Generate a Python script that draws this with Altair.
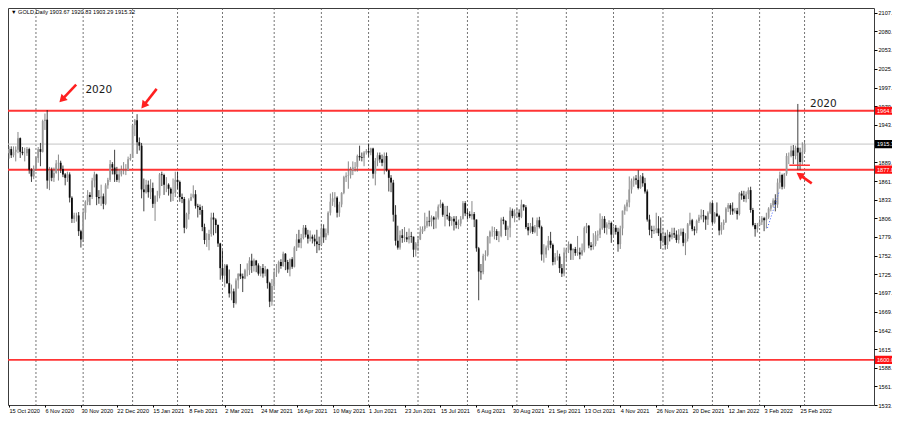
import altair as alt
import pandas as pd

# ---------------- data ----------------
TITLE = "\u25bc GOLD,Daily  1903.67 1920.83 1903.29 1915.32"
FIRST_DAY = "2020-10-15"
LAST_DAY = "2022-03-01"
CLOSED_DAYS = ["2020-12-25", "2021-01-01", "2021-04-02", "2021-12-24"]

OPEN = [
    1902, 1908, 1899, 1904, 1907, 1924, 1904, 1902, 1902, 1908, 1878, 1868,
    1879, 1895, 1908, 1904, 1949, 1951, 1862, 1877, 1866, 1873, 1887, 1888, 1879, 1871, 1866, 1871, 1837, 1806, 1811, 1811, 1788,
    1776, 1815, 1831, 1841, 1838, 1862, 1871, 1838, 1836, 1839, 1828, 1855, 1863, 1886, 1881, 1871, 1863, 1871, 1877, 1877, 1877, 1893,
    1895, 1943, 1950, 1918, 1913, 1849, 1845, 1856, 1845, 1851, 1828, 1840, 1840, 1871, 1870, 1856, 1856, 1850, 1843, 1844,
    1863, 1860, 1838, 1835, 1793, 1813, 1833, 1838, 1842, 1825, 1823, 1819, 1794, 1775, 1775, 1784, 1808, 1805, 1797, 1770,
    1734, 1723, 1738, 1712, 1697, 1700, 1683, 1716, 1726, 1722, 1719, 1731, 1731, 1745, 1737, 1745, 1738, 1726, 1734, 1726, 1732, 1712, 1685,
    1708, 1728, 1728, 1743, 1737, 1755, 1743, 1732, 1747, 1736, 1764, 1776, 1771, 1778, 1793, 1783, 1777, 1780, 1777, 1773, 1769,
    1768, 1792, 1779, 1785, 1815, 1831, 1836, 1837, 1815, 1827, 1844, 1867, 1869, 1870, 1877, 1881, 1882, 1898, 1896, 1895, 1903,
    1905, 1903, 1909, 1872, 1891, 1899, 1893, 1888, 1898, 1877, 1866, 1859, 1812, 1774, 1764, 1782, 1778, 1779, 1776, 1781, 1780, 1761,
    1770, 1776, 1787, 1791, 1796, 1803, 1802, 1808, 1805, 1808, 1824, 1828, 1812, 1812, 1810, 1803, 1806, 1802, 1797, 1799, 1806, 1829,
    1814, 1813, 1810, 1813, 1805, 1763, 1729, 1728, 1752, 1753, 1780, 1787, 1787, 1788, 1781, 1781, 1805, 1803, 1790, 1793, 1818, 1810,
    1814, 1815, 1809, 1827, 1823, 1794, 1789, 1795, 1787, 1794, 1804, 1794, 1754, 1754, 1764, 1774, 1768, 1743, 1750, 1751, 1734, 1726,
    1757, 1761, 1769, 1760, 1762, 1756, 1757, 1754, 1760, 1793, 1796, 1767, 1765, 1769, 1782, 1783, 1792, 1806, 1793, 1798, 1800,
    1783, 1793, 1787, 1769, 1792, 1818, 1824, 1830, 1849, 1862, 1865, 1863, 1851, 1868, 1858, 1846, 1805, 1790, 1788, 1790, 1792, 1785,
    1774, 1781, 1768, 1783, 1779, 1785, 1783, 1775, 1783, 1787, 1771, 1777, 1798, 1804, 1791, 1789, 1803, 1808, 1811, 1810, 1805, 1815,
    1829, 1801, 1814, 1810, 1789, 1797, 1801, 1821, 1826, 1821, 1817, 1818, 1813, 1843, 1840, 1835, 1842, 1848, 1819, 1797, 1791,
    1797, 1801, 1807, 1804, 1808, 1821, 1826, 1833, 1827, 1859, 1870, 1853, 1872, 1898, 1898, 1906, 1898, 1910, 1903, 1889, 1903.67,
]
HIGH = [
    1912, 1912, 1912, 1912, 1933, 1925, 1911, 1910, 1911, 1910, 1880, 1884,
    1897, 1911, 1917, 1951, 1960, 1965, 1882, 1881, 1881, 1892, 1900, 1891, 1884, 1873, 1875, 1874, 1839, 1815, 1815, 1816, 1790,
    1820, 1833, 1848, 1845, 1866, 1875, 1872, 1848, 1856, 1843, 1858, 1866, 1892, 1889, 1907, 1882, 1879, 1884, 1889, 1886, 1897, 1901,
    1945, 1952, 1959, 1925, 1917, 1865, 1863, 1862, 1864, 1859, 1838, 1847, 1873, 1875, 1872, 1867, 1858, 1852, 1865, 1875,
    1875, 1862, 1843, 1838, 1815, 1836, 1843, 1855, 1848, 1828, 1827, 1825, 1799, 1785, 1790, 1815, 1815, 1807, 1798, 1771,
    1760, 1740, 1740, 1732, 1710, 1704, 1719, 1726, 1740, 1726, 1733, 1741, 1750, 1755, 1748, 1746, 1741, 1737, 1740, 1737, 1733, 1714, 1718,
    1733, 1740, 1745, 1747, 1758, 1756, 1746, 1748, 1750, 1766, 1784, 1790, 1784, 1797, 1797, 1790, 1789, 1783, 1783, 1790, 1780,
    1799, 1798, 1792, 1817, 1843, 1845, 1845, 1839, 1831, 1845, 1869, 1874, 1890, 1882, 1890, 1889, 1900, 1913, 1903, 1905, 1908,
    1916, 1910, 1910, 1895, 1903, 1903, 1900, 1903, 1903, 1877, 1870, 1863, 1826, 1796, 1789, 1791, 1794, 1787, 1792, 1787, 1780, 1772,
    1781, 1795, 1795, 1815, 1809, 1818, 1811, 1810, 1817, 1827, 1834, 1830, 1825, 1825, 1815, 1809, 1810, 1810, 1805, 1810, 1832, 1832,
    1820, 1817, 1832, 1816, 1805, 1765, 1740, 1755, 1760, 1781, 1789, 1795, 1794, 1791, 1788, 1808, 1809, 1804, 1796, 1823, 1821, 1820,
    1823, 1820, 1834, 1827, 1826, 1800, 1800, 1808, 1797, 1808, 1809, 1796, 1769, 1767, 1781, 1787, 1770, 1756, 1760, 1755, 1740, 1764,
    1764, 1773, 1770, 1763, 1765, 1781, 1764, 1770, 1795, 1800, 1797, 1772, 1785, 1788, 1789, 1814, 1810, 1810, 1801, 1804, 1802,
    1795, 1797, 1793, 1796, 1818, 1827, 1834, 1868, 1865, 1868, 1870, 1877, 1870, 1873, 1866, 1849, 1812, 1796, 1796, 1815, 1810, 1808,
    1793, 1786, 1790, 1787, 1793, 1793, 1789, 1791, 1792, 1792, 1785, 1800, 1815, 1806, 1795, 1805, 1812, 1820, 1819, 1811, 1817, 1831,
    1831, 1816, 1830, 1812, 1801, 1805, 1823, 1829, 1829, 1830, 1822, 1822, 1845, 1847, 1847, 1846, 1852, 1853, 1822, 1800, 1800,
    1807, 1810, 1809, 1815, 1823, 1829, 1836, 1842, 1865, 1875, 1872, 1873, 1902, 1903, 1913, 1914, 1913, 1974, 1910, 1918, 1920.83,
]
LOW = [
    1894, 1895, 1896, 1890, 1902, 1895, 1899, 1890, 1898, 1872, 1860, 1864,
    1876, 1888, 1883, 1903, 1936, 1850, 1848, 1861, 1860, 1872, 1862, 1873, 1867, 1855, 1860, 1830, 1800, 1800, 1802, 1781, 1764,
    1772, 1805, 1826, 1826, 1835, 1852, 1826, 1828, 1825, 1820, 1826, 1850, 1860, 1871, 1860, 1860, 1859, 1868, 1871, 1870, 1876, 1891,
    1895, 1927, 1901, 1906, 1836, 1817, 1843, 1837, 1835, 1822, 1803, 1831, 1836, 1854, 1841, 1845, 1840, 1831, 1832, 1838,
    1850, 1831, 1829, 1785, 1791, 1805, 1832, 1836, 1821, 1808, 1812, 1788, 1769, 1765, 1760, 1780, 1782, 1785, 1765, 1717,
    1717, 1706, 1711, 1691, 1687, 1676, 1681, 1704, 1718, 1699, 1718, 1722, 1724, 1727, 1729, 1728, 1723, 1722, 1720, 1722, 1704, 1677, 1679,
    1705, 1721, 1726, 1733, 1736, 1731, 1727, 1722, 1733, 1735, 1759, 1764, 1763, 1776, 1779, 1770, 1773, 1770, 1766, 1756, 1760,
    1766, 1771, 1775, 1782, 1811, 1825, 1823, 1808, 1809, 1823, 1842, 1860, 1850, 1865, 1870, 1875, 1875, 1891, 1890, 1883, 1900,
    1897, 1899, 1865, 1855, 1883, 1888, 1883, 1871, 1875, 1846, 1845, 1802, 1767, 1761, 1761, 1771, 1772, 1772, 1770, 1771, 1750, 1751,
    1759, 1775, 1784, 1788, 1793, 1795, 1795, 1791, 1792, 1805, 1822, 1809, 1795, 1805, 1795, 1796, 1789, 1792, 1791, 1795, 1805, 1810,
    1805, 1807, 1805, 1794, 1758, 1687, 1717, 1725, 1745, 1751, 1770, 1780, 1776, 1775, 1772, 1779, 1798, 1781, 1775, 1779, 1807, 1801,
    1808, 1804, 1807, 1818, 1791, 1782, 1785, 1784, 1785, 1781, 1792, 1745, 1742, 1749, 1760, 1763, 1738, 1739, 1745, 1727, 1721, 1722,
    1745, 1756, 1746, 1746, 1752, 1752, 1747, 1752, 1757, 1785, 1763, 1760, 1761, 1766, 1774, 1778, 1790, 1785, 1783, 1791, 1771,
    1780, 1783, 1758, 1762, 1782, 1812, 1817, 1823, 1843, 1853, 1856, 1849, 1850, 1853, 1843, 1802, 1782, 1778, 1784, 1785, 1781, 1762,
    1770, 1761, 1762, 1773, 1776, 1778, 1771, 1770, 1781, 1766, 1753, 1773, 1796, 1788, 1782, 1785, 1800, 1805, 1801, 1790, 1797, 1813,
    1798, 1799, 1809, 1782, 1783, 1790, 1800, 1816, 1812, 1812, 1814, 1805, 1811, 1834, 1831, 1830, 1835, 1815, 1795, 1780, 1786,
    1795, 1797, 1788, 1792, 1806, 1817, 1823, 1817, 1822, 1850, 1849, 1850, 1869, 1886, 1896, 1886, 1893, 1878, 1878, 1885, 1903.29,
]
CLOSE = [
    1908, 1899, 1904, 1907, 1924, 1904, 1902, 1902, 1908, 1878, 1868, 1879,
    1895, 1908, 1904, 1949, 1951, 1862, 1877, 1866, 1873, 1887, 1888, 1879, 1871, 1866, 1871, 1837, 1806, 1811, 1811, 1788, 1776,
    1815, 1831, 1841, 1838, 1862, 1871, 1838, 1836, 1839, 1828, 1855, 1863, 1886, 1881, 1871, 1863, 1871, 1877, 1877, 1877, 1893, 1895,
    1943, 1950, 1918, 1913, 1849, 1845, 1856, 1845, 1851, 1828, 1840, 1840, 1871, 1870, 1856, 1856, 1850, 1843, 1844, 1863,
    1860, 1838, 1835, 1793, 1813, 1833, 1838, 1842, 1825, 1823, 1819, 1794, 1775, 1775, 1784, 1808, 1805, 1797, 1770, 1734,
    1723, 1738, 1712, 1697, 1700, 1683, 1716, 1726, 1722, 1719, 1731, 1731, 1745, 1737, 1745, 1738, 1726, 1734, 1726, 1732, 1712, 1685, 1708,
    1728, 1728, 1743, 1737, 1755, 1743, 1732, 1747, 1736, 1764, 1776, 1771, 1778, 1793, 1783, 1777, 1780, 1777, 1773, 1769, 1768,
    1792, 1779, 1785, 1815, 1831, 1836, 1837, 1815, 1827, 1844, 1867, 1869, 1870, 1877, 1881, 1882, 1898, 1896, 1895, 1903, 1905,
    1903, 1909, 1872, 1891, 1899, 1893, 1888, 1898, 1877, 1866, 1859, 1812, 1774, 1764, 1782, 1778, 1779, 1776, 1781, 1780, 1761, 1770,
    1776, 1787, 1791, 1796, 1803, 1802, 1808, 1805, 1808, 1824, 1828, 1812, 1812, 1810, 1803, 1806, 1802, 1797, 1799, 1806, 1829, 1814,
    1813, 1810, 1813, 1805, 1763, 1729, 1728, 1752, 1753, 1780, 1787, 1787, 1788, 1781, 1781, 1805, 1803, 1790, 1793, 1818, 1810, 1814,
    1815, 1809, 1827, 1823, 1794, 1789, 1795, 1787, 1794, 1804, 1794, 1754, 1754, 1764, 1774, 1768, 1743, 1750, 1751, 1734, 1726, 1757,
    1761, 1769, 1760, 1762, 1756, 1757, 1754, 1760, 1793, 1796, 1767, 1765, 1769, 1782, 1783, 1792, 1806, 1793, 1798, 1800, 1783,
    1793, 1787, 1769, 1792, 1818, 1824, 1830, 1849, 1862, 1865, 1863, 1851, 1868, 1858, 1846, 1805, 1790, 1788, 1790, 1792, 1785, 1774,
    1781, 1768, 1783, 1779, 1785, 1783, 1775, 1783, 1787, 1771, 1777, 1798, 1804, 1791, 1789, 1803, 1808, 1811, 1810, 1805, 1815, 1829,
    1801, 1814, 1810, 1789, 1797, 1801, 1821, 1826, 1821, 1817, 1818, 1813, 1843, 1840, 1835, 1842, 1848, 1819, 1797, 1791, 1797,
    1801, 1807, 1804, 1808, 1821, 1826, 1833, 1827, 1859, 1870, 1853, 1872, 1898, 1898, 1906, 1898, 1910, 1903, 1889, 1904, 1915.32,
]

PRICE_TICKS = [2107.50, 2080.30, 2053.10, 2025.10, 1997.90, 1970.70, 1943.50, 1889.10,
               1861.10, 1833.90, 1806.70, 1779.50, 1752.30, 1725.10, 1697.90, 1669.90,
               1642.70, 1615.50, 1588.30, 1561.10, 1533.90]
LEVEL_PRICES = [1964.03, 1877.83, 1600.00]
LAST_PRICE = 1915.32
LABEL_EVERY = 16

# annotations, in (bar number, price)
ARROW_FROM_BAR = [29.9, 65.7, 357.2]
ARROW_FROM_PRICE = [2002.3, 1996.0, 1857.8]
ARROW_TO_BAR = [21.8, 58.3, 350.3]
ARROW_TO_PRICE = [1974.2, 1964.9, 1873.8]
ARROW_ANGLE = [224, 218, 305]
NOTE_TEXT = ["2020", "2020"]
NOTE_BAR = [34.0, 356.4]
NOTE_PRICE = [1995.0, 1973.9]
MARK_BARS = [347.2, 356.4]
MARK_PRICE = 1884.4
TREND_BARS = [337.5, 342.8]
TREND_PRICES = [1792.8, 1846.6]

# ---------------- build tables ----------------
days = pd.bdate_range(FIRST_DAY, LAST_DAY)
days = days[~days.isin(pd.to_datetime(CLOSED_DAYS))]
n = min(len(days), len(OPEN), len(HIGH), len(LOW), len(CLOSE))
df = pd.DataFrame({
    "i": list(range(n)), "date": days[:n],
    "open": OPEN[:n], "high": HIGH[:n], "low": LOW[:n], "close": CLOSE[:n],
})
new_month = df["date"].dt.month != df["date"].shift(1).dt.month
months = df.loc[new_month].iloc[1:][["i"]]

label_bars = list(range(0, n, LABEL_EVERY))
label_text = [f"{d.day} {d.strftime('%b %Y')}" for d in df["date"].iloc[label_bars]]
label_expr = "[" + ",".join(f"'{t}'" for t in label_text) + f"][round(datum.value / {LABEL_EVERY})]"

levels = pd.DataFrame({"p": LEVEL_PRICES, "t": [f"{v:.2f}" for v in LEVEL_PRICES]})
last = pd.DataFrame({"p": [LAST_PRICE], "t": [f"{LAST_PRICE:.2f}"]})
boxes = pd.concat([levels.assign(c="#ff1010"), last.assign(c="#000000")], ignore_index=True)
boxes["lo"] = boxes["p"] - 6.0
boxes["hi"] = boxes["p"] + 6.0

arr = pd.DataFrame({"b0": ARROW_FROM_BAR, "p0": ARROW_FROM_PRICE,
                    "b1": ARROW_TO_BAR, "p1": ARROW_TO_PRICE, "ang": ARROW_ANGLE})
arr["bh"] = arr["b1"] + 0.22 * (arr["b0"] - arr["b1"])
arr["ph"] = arr["p1"] + 0.22 * (arr["p0"] - arr["p1"])
notes = pd.DataFrame({"b": NOTE_BAR, "p": NOTE_PRICE, "t": NOTE_TEXT})
mark = pd.DataFrame({"b0": [MARK_BARS[0]], "b1": [MARK_BARS[1]], "p": [MARK_PRICE]})
trend = pd.DataFrame({"b0": [TREND_BARS[0]], "b1": [TREND_BARS[1]],
                      "p0": [TREND_PRICES[0]], "p1": [TREND_PRICES[1]]})

# ---------------- chart ----------------
W, H = 866, 397
FONT = "Liberation Sans"
XS = alt.Scale(domain=[-0.44, 384.9], nice=False, zero=False, padding=0)
YS = alt.Scale(domain=[1533.9, 2114.25], nice=False, zero=False, padding=0)
XAXIS = alt.Axis(values=label_bars, labelExpr=label_expr, labelAlign="left", labelBaseline="top",
                 labelFlush=False, labelOverlap=False, labelPadding=1, labelFont=FONT,
                 labelFontSize=5.6, labelColor="#000000", tickSize=2, tickColor="#000000",
                 domain=False, grid=False, title=None)
YAXIS = alt.Axis(orient="right", values=PRICE_TICKS, format=".2f", labelFont=FONT,
                 labelFontSize=5.6, labelColor="#000000", tickSize=3, tickColor="#000000",
                 labelPadding=1, labelBaseline="middle", labelFlush=False, labelOverlap=False,
                 domain=False, grid=False, title=None)


def X(f):
    return alt.X(f, type="quantitative", scale=XS, axis=XAXIS)


def Y(f):
    return alt.Y(f, type="quantitative", scale=YS, axis=YAXIS)


grid = alt.Chart(months).mark_rule(color="#505050", strokeWidth=0.8, strokeDash=[2, 2]).encode(x=X("i"))
lastline = alt.Chart(last).mark_rule(color="#c4c4c4", strokeWidth=1).encode(y=Y("p"))
redlines = alt.Chart(levels).mark_rule(color="#ff3535", strokeWidth=1.8).encode(y=Y("p"))

up = "datum.close >= datum.open"
wicks = alt.Chart(df).mark_rule(strokeWidth=0.8).encode(
    x=X("i"), y=Y("low"), y2="high",
    color=alt.condition(up, alt.value("#6a6a6a"), alt.value("#111111")))
bodies = alt.Chart(df).mark_bar(size=1.8).encode(
    x=X("i"), y=Y("open"), y2="close",
    color=alt.condition(up, alt.value("#9a9a9a"), alt.value("#0d0d0d")))

seg = alt.Chart(mark).mark_rule(color="#ff3535", strokeWidth=1.5).encode(x=X("b0"), x2="b1", y=Y("p"))
tline = alt.Chart(trend).mark_rule(color="#4060ff", strokeWidth=1, strokeDash=[1, 2]).encode(
    x=X("b0"), x2="b1", y=Y("p0"), y2="p1")
shafts = alt.Chart(arr).mark_rule(color="#ff2020", strokeWidth=2.6).encode(
    x=X("b0"), y=Y("p0"), x2="bh", y2="ph")
heads = alt.Chart(arr).mark_point(shape="triangle-up", filled=True, size=75, opacity=1,
                                  color="#ff2020").encode(
    x=X("bh"), y=Y("ph"), angle=alt.Angle("ang:Q", scale=None))
note_text = alt.Chart(notes).mark_text(align="left", baseline="middle", font="DejaVu Sans",
                                       fontSize=10.5, color="#1a1a1a").encode(
    x=X("b"), y=Y("p"), text="t:N")

title = alt.Chart(pd.DataFrame({"t": [TITLE]})).mark_text(
    align="left", baseline="middle", font=FONT, fontSize=5.6, color="#000000").encode(
    x=alt.value(3), y=alt.value(4), text="t:N")

box_rect = alt.Chart(boxes).mark_rect(clip=False).encode(
    x=alt.value(W + 1), x2=alt.value(W + 40), y=Y("lo"), y2="hi",
    color=alt.Color("c:N", scale=None))
box_text = alt.Chart(boxes).mark_text(align="left", baseline="middle", font=FONT, fontSize=5.6,
                                      color="#ffffff", clip=False).encode(
    x=alt.value(W + 3), y=Y("p"), text="t:N")

chart = alt.layer(
    grid, lastline, redlines, wicks, bodies, seg, tline, shafts, heads, note_text, title,
    box_rect, box_text,
).properties(
    width=W, height=H,
    autosize=alt.AutoSizeParams(type="none"),
    padding={"left": 0, "top": 0, "right": 18, "bottom": 10},
    background="white",
).configure_view(stroke="#3c3c3c", strokeWidth=1)

chart.save("out.html", embed_options={"renderer": "svg", "actions": False})
